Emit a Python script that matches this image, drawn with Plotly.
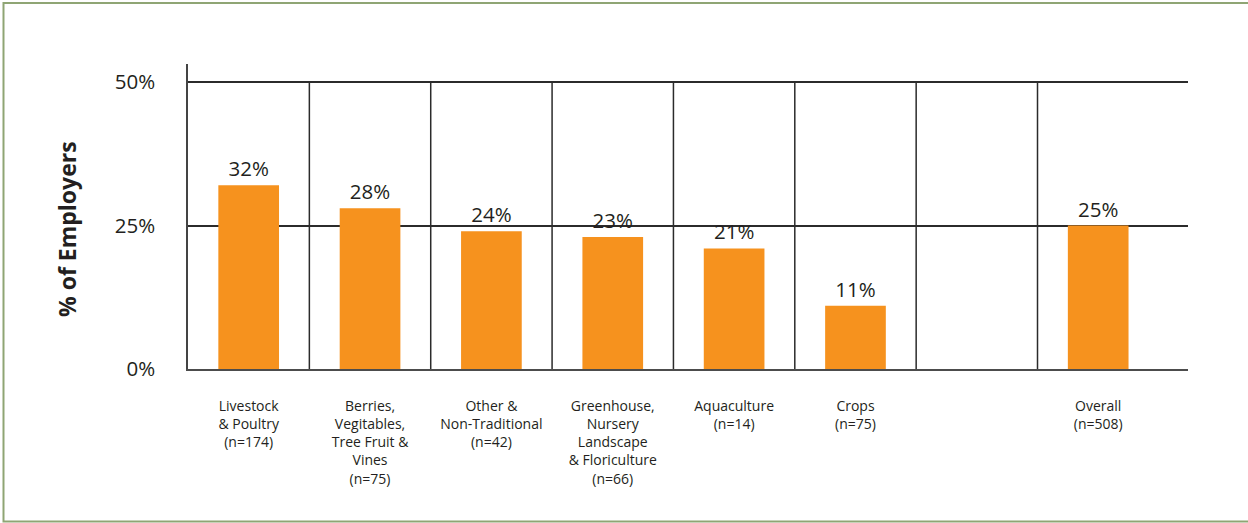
import plotly.graph_objects as go

# Share of employers by farm sector
categories = [
    "Livestock<br>& Poultry<br>(n=174)",
    "Berries,<br>Vegitables,<br>Tree Fruit &<br>Vines<br>(n=75)",
    "Other &<br>Non-Traditional<br>(n=42)",
    "Greenhouse,<br>Nursery<br>Landscape<br>& Floriculture<br>(n=66)",
    "Aquaculture<br>(n=14)",
    "Crops<br>(n=75)",
    " ",
    "Overall<br>(n=508)",
]
values = [32, 28, 24, 23, 21, 11, None, 25]
value_labels = ["32%", "28%", "24%", "23%", "21%", "11%", "", "25%"]
y_ticks = [0, 25, 50]
y_tick_labels = ["0%", "25%", "50%"]

FONT = "Open Sans"
TEXT = "#231f20"
ORANGE = "#f6921e"
LINE = "#2b2b2b"

fig = go.Figure(
    go.Bar(
        x=categories,
        y=values,
        text=value_labels,
        textposition="outside",
        textfont=dict(family=FONT, size=20.5, color=TEXT),
        marker=dict(color=ORANGE, line=dict(width=0)),
        width=0.5,
        cliponaxis=False,
        hoverinfo="skip",
    )
)

# vertical separators between sector columns
for i in range(len(categories) - 1):
    fig.add_shape(
        type="line", xref="x", yref="y",
        x0=i + 0.5, x1=i + 0.5, y0=0, y1=50,
        line=dict(color=LINE, width=1.5), layer="below",
    )

# outer frame
fig.add_shape(
    type="rect", xref="paper", yref="paper",
    x0=-0.1845, x1=1.07, y0=-0.5, y1=1.2,
    line=dict(color="#8fa574", width=2), fillcolor="rgba(0,0,0,0)",
    layer="below",
)

# vertical axis title
fig.add_annotation(
    xref="paper", yref="paper", x=-0.121, y=0.459,
    text="<b>% of Employers</b>", textangle=-90, showarrow=False,
    font=dict(family=FONT, size=23, color=TEXT),
    xanchor="center", yanchor="middle",
)

fig.update_layout(
    width=1248, height=523,
    margin=dict(l=188, r=60, t=64, b=154),
    paper_bgcolor="white", plot_bgcolor="white",
    showlegend=False,
    font=dict(family=FONT, color=TEXT),
    bargap=0.5,
)
fig.update_xaxes(
    type="category",
    categoryorder="array", categoryarray=categories,
    range=[-0.5, 7.74],
    showgrid=False,
    showline=True, linecolor="rgba(0,0,0,0.7)", linewidth=2,
    ticks="",
    tickfont=dict(family=FONT, size=14, color=TEXT),
    ticklabelstandoff=23,
    tickangle=0,
    fixedrange=True,
)
fig.update_yaxes(
    range=[0, 53.14],
    tickvals=y_ticks, ticktext=y_tick_labels,
    showgrid=True, gridcolor=LINE, gridwidth=1.5,
    zeroline=False,
    showline=True, linecolor="#444444", linewidth=1.5,
    ticks="",
    tickfont=dict(family=FONT, size=20.5, color=TEXT),
    ticklabelstandoff=27,
    fixedrange=True,
)

fig.write_html("out.html")
